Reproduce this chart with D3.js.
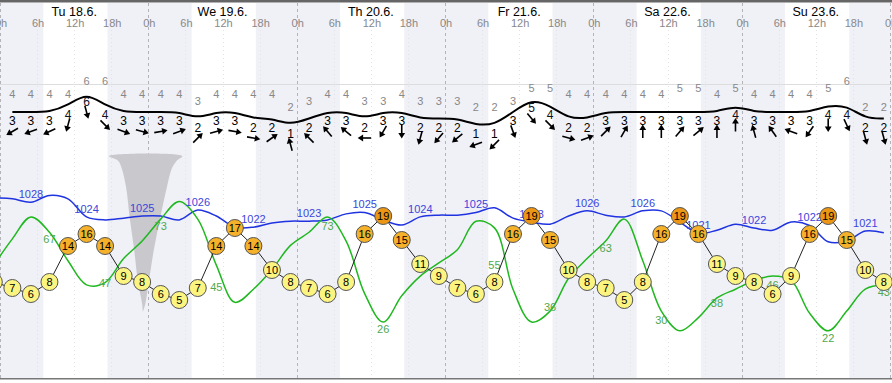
<!DOCTYPE html>
<html>
<head>
<meta charset="utf-8">
<script src="https://cdn.jsdelivr.net/npm/d3@7/dist/d3.min.js"></script>
<style>
  body { margin: 0; background: #fff; }
  svg { display: block; font-family: Arial, "Liberation Sans", sans-serif; }
</style>
</head>
<body>
<div id="chart"></div>
<script>
// chart size
var svgWidth = 892;
var svgHeight = 383;

// days shown, one label per day at noon
var days = ["Tu 18.6.", "We 19.6.", "Th 20.6.", "Fr 21.6.", "Sa 22.6.", "Su 23.6."];
var hourLabels = ["0h", "6h", "12h", "18h"];
var sunrise = 7.0;
var sunset = 17.4;

// forecast steps every 3 hours (local time), hours since Tu 0h
var hours = d3.range(2, 144, 3);
var windSpeed = [3,3,3,4,6,4,3,3,3,3,2,3,3,2,2,1,
                 2,3,3,2,3,3,2,2,2,1,1,3,5,4,2,2,
                 3,3,3,3,3,3,3,4,3,3,3,3,4,4,2,2];
var windGust = [4,4,4,4,6,6,4,4,4,4,3,4,4,4,4,2,
                3,4,4,3,3,4,3,3,3,2,2,3,5,5,4,4,
                4,4,4,4,5,5,4,5,4,4,4,4,5,6,2,2];
// direction the wind comes from, degrees
var windDir = [60,70,65,15,345,315,290,285,260,250,225,255,280,280,235,165,
               135,140,130,90,30,0,15,40,50,70,45,340,320,315,285,250,
               225,210,180,180,220,230,180,180,165,145,110,35,0,335,345,345];

// lower panel series start one step earlier (hour -1)
var lowHours = d3.range(-1, 144, 3);
var temperature = [8,
  7,6,8,14,16,14,9,8,6,5,7,14,17,14,10,8,
  7,6,8,16,19,15,11,9,7,6,8,16,19,15,10,8,
  7,5,8,16,19,16,11,9,8,6,9,16,19,15,10,8];
var pressure = [1028.8,
  1028.6,1027.8,1029.4,1028.6,1024.4,1023.7,1024.1,1024.6,1024.6,1023.7,1026.0,1024.6,1022.0,1022.0,1023.0,1023.4,
  1023.4,1023.7,1025.1,1025.4,1023.7,1022.5,1024.4,1024.8,1024.8,1025.4,1026.5,1024.1,1023.2,1022.7,1024.6,1025.8,
  1024.8,1024.4,1025.8,1025.8,1023.2,1020.6,1021.3,1022.7,1021.8,1021.3,1023.2,1022.4,1018.6,1018.8,1021.1,1020.7];
var humidity = [52,
  64,74,67,54,43,44,55,63,73,81,73,52,35,41,50,61,
  67,74,63,39,26,38,47,53,59,72,69,41,26,31,46,55,
  63,73,54,31,22,28,37,41,45,47,45,30,22,31,41,43];
// humidity values printed under the curve
var humLabelHours = [8,17,26,35,53,62,80,89,98,107,116,125,134,143];
var humLabelValues = [67,47,73,45,73,26,55,36,63,30,38,46,22,43];

// grey funnel (hours, depth 0..1)
var funnelDepth = [0, 0.03, 0.08, 0.2, 0.4, 0.6, 0.8, 0.95, 1];
var funnelLeft  = [17.6, 19.1, 19.7, 20.4, 21.0, 21.7, 22.3, 23.0, 23.1];
var funnelRight = [29.5, 28.6, 27.8, 27.0, 25.9, 24.9, 24.1, 23.5, 23.1];

var svg = d3.select("#chart").append("svg")
  .attr("width", svgWidth)
  .attr("height", svgHeight);

var x = d3.scaleLinear().domain([0, 144]).range([0, 890]);
var windY = d3.scaleLinear().domain([0, 6]).range([131.5, 92.5]);
var tempY = d3.scaleLinear().domain([0, 20]).range([330, 210]);
var presY = d3.scaleLinear().domain([1018, 1030]).range([244.4, 192.8]);
var humY = d3.scaleLinear().domain([0, 100]).range([379, 160]);
var funnelY = d3.scaleLinear().domain([0, 1]).range([156, 312]);

// night shading
var nights = d3.range(-1, 6);
svg.selectAll("rect.night")
  .data(nights)
  .enter().append("rect")
  .attr("class", "night")
  .attr("x", d => x(d * 24 + sunset))
  .attr("width", d => x(d * 24 + 24 + sunrise) - x(d * 24 + sunset))
  .attr("y", 3)
  .attr("height", 375)
  .attr("fill", "#f0f0f7");

// vertical grid: dashed at midnight, faint dots every 6h
var ticks = d3.range(0, 145, 6);
svg.selectAll("line.vgrid")
  .data(ticks)
  .enter().append("line")
  .attr("x1", d => Math.round(x(d)) + 0.5)
  .attr("x2", d => Math.round(x(d)) + 0.5)
  .attr("y1", d => d % 24 === 0 ? 3 : 30)
  .attr("y2", 378)
  .attr("stroke", d => d % 24 === 0 ? "#b4b4b8" : "#e2e2e6")
  .attr("stroke-dasharray", d => d % 24 === 0 ? "3,3" : "1,3");

// horizontal guide in wind panel
svg.append("line")
  .attr("x1", 0).attr("x2", svgWidth)
  .attr("y1", 84.5).attr("y2", 84.5)
  .attr("stroke", "#ddd");

// frame lines top and bottom
svg.append("rect").attr("x", 0).attr("y", 0).attr("width", svgWidth).attr("height", 2.5).attr("fill", "#666");
svg.append("rect").attr("x", 0).attr("y", 378).attr("width", svgWidth).attr("height", 1.5).attr("fill", "#777");

// day and hour labels
svg.selectAll("text.day")
  .data(days)
  .enter().append("text")
  .attr("x", (d, i) => x(i * 24 + 12))
  .attr("y", 16)
  .attr("text-anchor", "middle")
  .style("font-size", "12.5px")
  .attr("fill", "#000")
  .text(d => d);

svg.selectAll("text.hour")
  .data(ticks)
  .enter().append("text")
  .attr("x", d => x(d) + 1)
  .attr("y", 27)
  .attr("text-anchor", "middle")
  .style("font-size", "11px")
  .attr("fill", "#888")
  .text(d => hourLabels[(d % 24) / 6]);

// funnel
var funnelPts = funnelDepth.map((d, i) => [x(funnelLeft[i]), funnelY(d)])
  .concat(funnelDepth.map((d, i) => [x(funnelRight[i]), funnelY(d)]).reverse());
svg.append("path")
  .attr("d", d3.line().curve(d3.curveCatmullRomClosed)(funnelPts))
  .attr("fill", "#c8c8cd");

// wind curve
var windLine = d3.line()
  .x((d, i) => x(hours[i]))
  .y(d => windY(d))
  .curve(d3.curveBasis);
svg.append("path")
  .attr("d", windLine(windSpeed))
  .attr("fill", "none")
  .attr("stroke", "#000")
  .attr("stroke-width", 2);

// gust numbers
svg.selectAll("text.gust")
  .data(windGust)
  .enter().append("text")
  .attr("x", (d, i) => x(hours[i]))
  .attr("y", d => windY(d) - 11)
  .attr("dy", "0.35em")
  .attr("text-anchor", "middle")
  .style("font-size", "11px")
  .attr("fill", "#888")
  .text(d => d);

// wind numbers and arrows
svg.selectAll("text.wind")
  .data(windSpeed)
  .enter().append("text")
  .attr("x", (d, i) => x(hours[i]))
  .attr("y", d => windY(d) + 9)
  .attr("dy", "0.35em")
  .attr("text-anchor", "middle")
  .style("font-size", "12px")
  .attr("fill", d => d >= 4 ? "#112" : "#000")
  .text(d => d);

var arrows = svg.selectAll("g.arrow")
  .data(windSpeed)
  .enter().append("g")
  .attr("transform", (d, i) => `translate(${x(hours[i])},${windY(d) + 19.5}) rotate(${windDir[i] + 180})`);
arrows.append("line")
  .attr("x1", 0).attr("y1", 6.5)
  .attr("x2", 0).attr("y2", -3)
  .attr("stroke", "#000")
  .attr("stroke-width", 1.6);
arrows.append("path")
  .attr("d", "M0,-7L-3.4,-1.5L3.4,-1.5Z")
  .attr("fill", "#000");

// pressure line
var presLine = d3.line()
  .x((d, i) => x(lowHours[i]))
  .y(d => presY(d))
  .curve(d3.curveCatmullRom);
svg.append("path")
  .attr("d", presLine(pressure))
  .attr("fill", "none")
  .attr("stroke", "#1f33e0")
  .attr("stroke-width", 1.5);

// humidity line
var humLine = d3.line()
  .x((d, i) => x(lowHours[i]))
  .y(d => humY(d))
  .curve(d3.curveCatmullRom);
svg.append("path")
  .attr("d", humLine(humidity))
  .attr("fill", "none")
  .attr("stroke", "#1fb81f")
  .attr("stroke-width", 1.5);

// humidity labels
svg.selectAll("text.hum")
  .data(humLabelValues)
  .enter().append("text")
  .attr("x", (d, i) => x(humLabelHours[i]))
  .attr("y", d => humY(d) + 7)
  .attr("dy", "0.35em")
  .attr("text-anchor", "middle")
  .style("font-size", "11px")
  .attr("fill", "#4fa84f")
  .text(d => d);

// pressure labels every third step
var presIdx = d3.range(2, lowHours.length, 3);
svg.selectAll("text.pres")
  .data(presIdx)
  .enter().append("text")
  .attr("x", i => x(lowHours[i]))
  .attr("y", i => presY(pressure[i]) - 8)
  .attr("dy", "0.35em")
  .attr("text-anchor", "middle")
  .style("font-size", "11px")
  .attr("fill", "#3a46dc")
  .text(i => Math.round(pressure[i]));

// temperature line and circles
var tempLine = d3.line()
  .x((d, i) => x(lowHours[i]))
  .y(d => tempY(d));
svg.append("path")
  .attr("d", tempLine(temperature))
  .attr("fill", "none")
  .attr("stroke", "#222")
  .attr("stroke-width", 1);

function tempColor(t) {
  if (t >= 18) return "#ec9616";
  if (t >= 13) return "#f5b129";
  return "#fbf481";
}

var circles = svg.selectAll("g.temp")
  .data(temperature)
  .enter().append("g")
  .attr("transform", (d, i) => `translate(${x(lowHours[i])},${tempY(d)})`);
circles.append("circle")
  .attr("r", 8.5)
  .attr("fill", d => tempColor(d))
  .attr("stroke", "#555")
  .attr("stroke-width", 1);
circles.append("text")
  .attr("text-anchor", "middle")
  .attr("dy", "0.36em")
  .style("font-size", "11px")
  .attr("fill", "#000")
  .text(d => d);
</script>
</body>
</html>
